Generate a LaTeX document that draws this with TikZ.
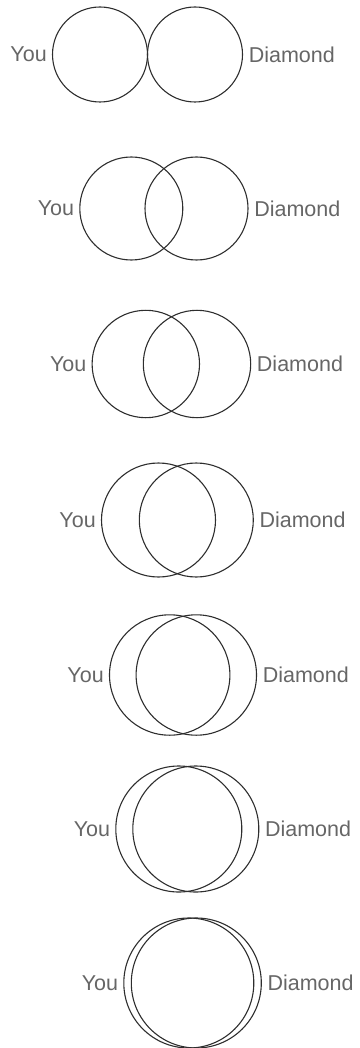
\documentclass[tikz,border=0pt]{standalone}
\usepackage{fontspec}
\setmainfont{Liberation Sans}
\usetikzlibrary{positioning}
\definecolor{ringgray}{HTML}{2E2E2E}
\definecolor{labelgray}{HTML}{666666}
\begin{document}
\begin{tikzpicture}[x=1pt,y=-1pt,
    ring/.style={circle,draw=ringgray,line width=1.1pt,inner sep=0pt,minimum size={#1}},
    lbl/.style={text=labelgray,inner sep=0pt,font=\fontsize{21.5}{24}\selectfont}]
    % Khung hình
    \useasboundingbox (0,0) rectangle (359,1048);

    % Các cặp vòng tròn: số / y / x trái / x phải / bán kính
    \foreach \n/\y/\xa/\xb/\r in {1/54.5/100/195/47.5,
                                  2/208.5/131.3/196.5/51.5,
                                  3/364/145.8/197/53.7,
                                  4/520/158.5/196.3/57,
                                  5/675/169.7/196.3/60.2,
                                  6/829/178.8/195.8/63,
                                  7/983/188.8/196.3/65}{
        % Vòng tròn
        \node[ring=2*\r pt] (you\n) at (\xa,\y) {};
        \node[ring=2*\r pt] (dia\n) at (\xb,\y) {};
        % Nhãn
        \node[lbl,left=5pt of you\n] (youlbl\n) {You};
        \node[lbl,right=5.5pt of dia\n] (dialbl\n) {Diamond};
    }
\end{tikzpicture}
\end{document}
